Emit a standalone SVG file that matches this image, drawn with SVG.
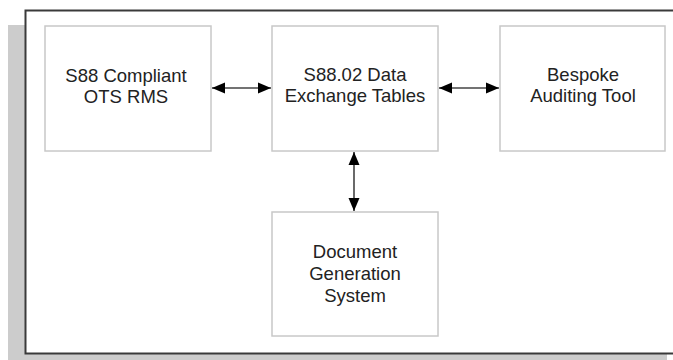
<svg xmlns="http://www.w3.org/2000/svg" width="673" height="360" viewBox="0 0 673 360">
  <style>
    .box { fill: #ffffff; stroke: #c8c8c8; stroke-width: 1.5; }
    .lbl { font-family: "Liberation Sans", Arial, sans-serif; font-size: 18.5px; fill: #222222; text-anchor: middle; }
    .conn { stroke: #444444; stroke-width: 1.6; fill: none; marker-start: url(#ah); marker-end: url(#ah); }
  </style>
  <defs>
    <marker id="ah" markerUnits="userSpaceOnUse" markerWidth="14" markerHeight="12" refX="13" refY="5.5" orient="auto-start-reverse" viewBox="0 0 14 11">
      <path d="M0,0 L13,5.5 L0,11 Z" fill="#000000"/>
    </marker>
  </defs>
  <rect x="8" y="25" width="659" height="335" fill="#cccccc"/>
  <rect x="25.5" y="10.5" width="700" height="343" fill="#ffffff" stroke="#3a3a3a" stroke-width="2"/>
  <g id="connectors">
    <line class="conn" x1="212" y1="88" x2="271" y2="88"/>
    <line class="conn" x1="439" y1="88" x2="499" y2="88"/>
    <line class="conn" x1="354" y1="152" x2="354" y2="211"/>
  </g>
  <g id="node-rms">
    <rect class="box" x="45" y="26" width="166" height="125"/>
    <text class="lbl" x="126" y="82">S88 Compliant</text>
    <text class="lbl" x="126" y="103">OTS RMS</text>
  </g>
  <g id="node-tables">
    <rect class="box" x="272" y="26" width="166" height="125"/>
    <text class="lbl" x="355" y="81">S88.02 Data</text>
    <text class="lbl" x="355" y="102">Exchange Tables</text>
  </g>
  <g id="node-audit">
    <rect class="box" x="500" y="26" width="165" height="125"/>
    <text class="lbl" x="583" y="81">Bespoke</text>
    <text class="lbl" x="583" y="102">Auditing Tool</text>
  </g>
  <g id="node-docgen">
    <rect class="box" x="272" y="212" width="166" height="124"/>
    <text class="lbl" x="355" y="258">Document</text>
    <text class="lbl" x="355" y="280">Generation</text>
    <text class="lbl" x="355" y="302">System</text>
  </g>
</svg>
